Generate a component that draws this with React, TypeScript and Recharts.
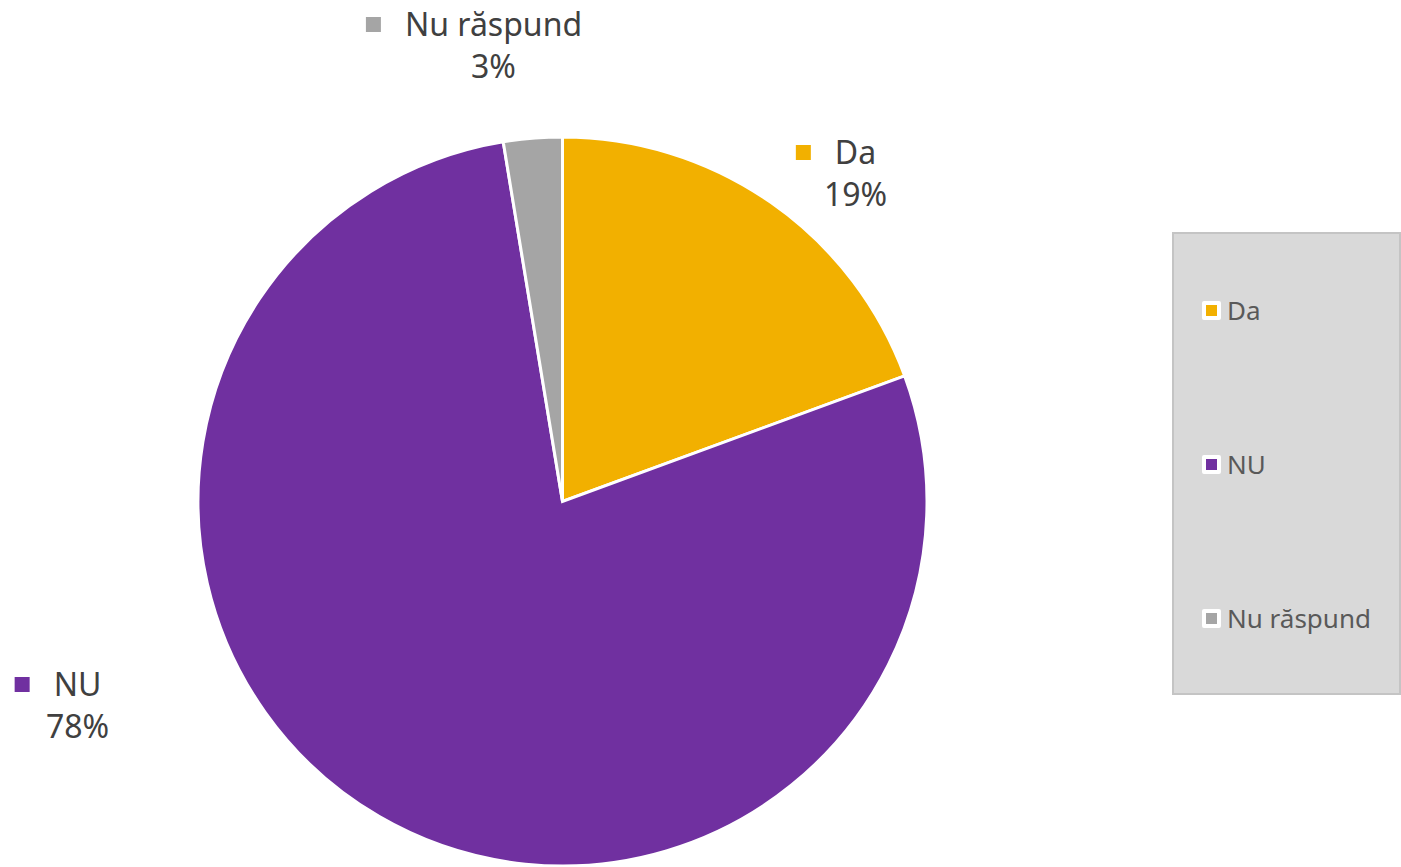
import { PieChart, Pie, Cell, Legend } from 'recharts';

const categories = ['Da', 'NU', 'Nu răspund'];
const shares = [19.4, 78.0, 2.6];
const colors = ['#F2B000', '#7030A0', '#A5A5A5'];

const chartData = categories.map((name, i) => ({ name, value: shares[i] }));
const total = shares.reduce((a, b) => a + b, 0);

// where each outside label's name sits, relative to the pie centre
const labelOffsets = [
    { dx: 293, dy: -349 },
    { dx: -485, dy: 183 },
    { dx: -69, dy: -477 },
];

const FONT = '"Noto Sans", sans-serif';
const LABEL_SIZE = 32;

let ctx: CanvasRenderingContext2D | null = null;
const textWidth = (s: string, size: number) => {
    if (!ctx) ctx = document.createElement('canvas').getContext('2d');
    if (!ctx) return s.length * size * 0.55;
    ctx.font = `${size}px "Noto Sans"`;
    return ctx.measureText(s).width;
};

const renderLabel = (props: any) => {
    const { cx, cy, index, name, value } = props;
    const off = labelOffsets[index];
    const x = cx + off.dx;
    const y = cy + off.dy;
    const w = textWidth(name, LABEL_SIZE);
    return (
        <g>
            <rect x={x - w / 2 - 39} y={y - 7.5} width={15} height={15} fill={colors[index]} />
            <text x={x} y={y + 11} textAnchor="middle" fontSize={LABEL_SIZE} fill="#404040" fontFamily={FONT}>
                {name}
            </text>
            <text x={x} y={y + 53} textAnchor="middle" fontSize={LABEL_SIZE} fill="#404040" fontFamily={FONT}>
                {Math.round((value / total) * 100)}%
            </text>
        </g>
    );
};

const LegendBox = () => (
    <div
        style={{
            width: 229,
            height: 463,
            boxSizing: 'border-box',
            background: '#d9d9d9',
            border: '2px solid #c4c4c4',
            position: 'relative',
            fontFamily: FONT,
        }}
    >
        {categories.map((c, i) => (
            <div
                key={c}
                style={{
                    position: 'absolute',
                    left: 28,
                    top: 61 + i * 154,
                    height: 30,
                    display: 'flex',
                    alignItems: 'center',
                    whiteSpace: 'nowrap',
                }}
            >
                <span
                    style={{
                        display: 'inline-block',
                        width: 11,
                        height: 11,
                        background: colors[i],
                        border: '4px solid #fff',
                        borderRadius: 2,
                    }}
                />
                <span style={{ marginLeft: 6, fontSize: 26, color: '#595959', lineHeight: '30px' }}>{c}</span>
            </div>
        ))}
    </div>
);

export default function App() {
    return (
        <div style={{ position: 'absolute', left: 0, top: 0, width: 1401, height: 867, background: '#fff' }}>
            <PieChart width={1401} height={867} margin={{ top: 0, right: 0, bottom: 0, left: 0 }}>
                <Pie
                    data={chartData}
                    dataKey="value"
                    nameKey="name"
                    cx={562.5}
                    cy={501.5}
                    outerRadius={364.5}
                    startAngle={90}
                    endAngle={-270}
                    stroke="#fff"
                    strokeWidth={3}
                    label={renderLabel}
                    labelLine={false}
                    isAnimationActive={false}
                >
                    {chartData.map((d, i) => (
                        <Cell key={d.name} fill={colors[i]} />
                    ))}
                </Pie>
                <Legend
                    content={<LegendBox />}
                    wrapperStyle={{ position: 'absolute', left: 1172, top: 232, width: 229, height: 463 }}
                />
            </PieChart>
        </div>
    );
}
